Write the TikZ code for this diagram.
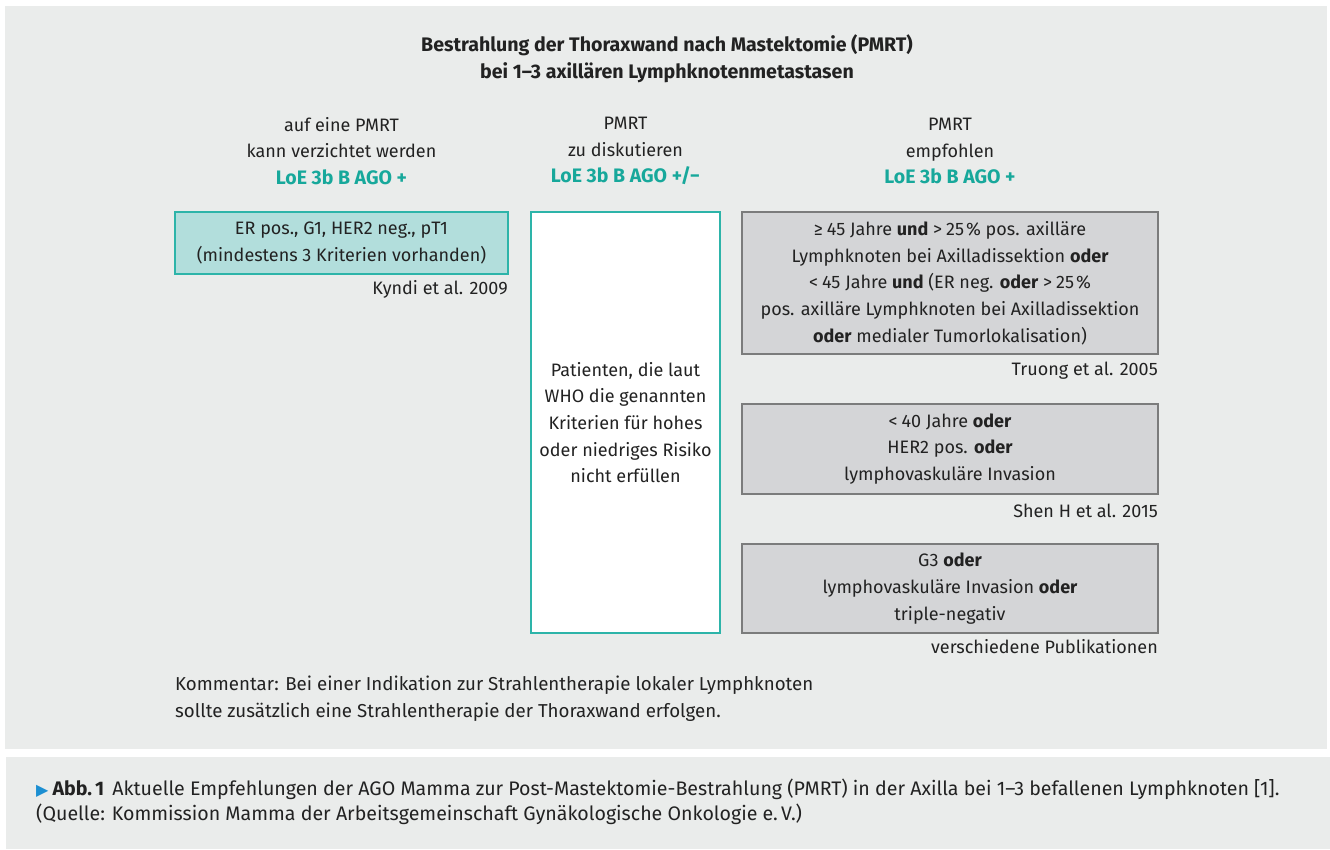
\documentclass[tikz,border=0pt]{standalone}
\usepackage{fontspec}
\setmainfont{Fira Sans}
\newfontfamily\symfont{DejaVu Sans}
\definecolor{panelbg}{HTML}{EAECEB}
\definecolor{txt}{HTML}{222222}
\definecolor{teal}{HTML}{17A89B}
\definecolor{tealfill}{HTML}{B2DEDC}
\definecolor{tealline}{HTML}{2DB4A9}
\definecolor{greyfill}{HTML}{D4D5D7}
\definecolor{greyline}{HTML}{7B7C7C}
\definecolor{capblue}{HTML}{1C8FD2}
\newcommand{\loetext}[1]{{\color{teal}\fontsize{19.5}{26.7}\selectfont\bfseries #1}}
\newcommand{\symsp}{\hspace{4pt}}
\newcommand{\pctsp}{\hspace{2pt}}
\tikzset{
  base/.style={inner sep=0pt, text=txt, font=\fontsize{18}{26.7}\selectfont, align=center},
  tealbox/.style={base, draw=tealline, fill=tealfill, line width=1.5pt},
  whitebox/.style={base, draw=tealline, fill=white, line width=1.5pt},
  greybox/.style={base, draw=greyline, fill=greyfill, line width=1.5pt},
  cite/.style={base, anchor=east},
  head/.style={base}
}
\begin{document}
\begin{tikzpicture}[x=1pt,y=-1pt]
\useasboundingbox (0,0) rectangle (1330,850);
\fill[white] (0,0) rectangle (1330,850);
\fill[panelbg] (5,6) rectangle (1327,749);
\fill[panelbg] (6,757) rectangle (1330,849);

\node[base, font=\fontsize{19.6}{27}\selectfont\bfseries] (title) at (667,58.5)
  {Bestrahlung der Thoraxwand nach Mastektomie (PMRT)\\bei 1–3 axillären Lymphknotenmetastasen};

\node[head] (h1) at (341.5,151) {auf eine PMRT\\kann verzichtet werden\\\loetext{LoE 3b B AGO +}};
\node[head] (h2) at (625.5,151) {PMRT\\zu diskutieren\\\loetext{LoE 3b B AGO +/−}};
\node[head] (h3) at (950,151) {PMRT\\empfohlen\\\loetext{LoE 3b B AGO +}};

\node[tealbox, minimum width=333pt, minimum height=62pt] (b1) at (341.5,243)
  {ER pos., G1, HER2 neg., pT1\\(mindestens 3 Kriterien vorhanden)};
\node[cite] (c1) at (508,289) {Kyndi et al. 2009};

\node[whitebox, minimum width=189pt, minimum height=421pt] (b2) at (625.5,422.5)
  {Patienten, die laut\\WHO die genannten\\Kriterien für hohes\\oder niedriges Risiko\\nicht erfüllen};

\node[greybox, minimum width=416pt, minimum height=142pt] (b3) at (950,283)
  {≥\symsp 45 Jahre \textbf{und} >\symsp 25\pctsp\% pos. axilläre\\Lymphknoten bei Axilladissektion \textbf{oder}\\<\symsp 45 Jahre \textbf{und} (ER neg. \textbf{oder} >\symsp 25\pctsp\%\\pos. axilläre Lymphknoten bei Axilladissektion\\\textbf{oder} medialer Tumorlokalisation)};
\node[cite] (c3) at (1158,371) {Truong et al. 2005};

\node[greybox, minimum width=416pt, minimum height=90pt] (b4) at (950,449)
  {<\symsp 40 Jahre \textbf{oder}\\HER2 pos. \textbf{oder}\\lymphovaskuläre Invasion};
\node[cite] (c4) at (1158,511) {Shen H et al. 2015};

\node[greybox, minimum width=416pt, minimum height=89pt] (b5) at (950,588.5)
  {G3 \textbf{oder}\\lymphovaskuläre Invasion \textbf{oder}\\triple-negativ};
\node[cite] (c5) at (1158,647) {verschiedene Publikationen};

\node[base, anchor=west, align=left, font=\fontsize{18.7}{26.7}\selectfont] (comment) at (175,698.5)
  {Kommentar: Bei einer Indikation zur Strahlentherapie lokaler Lymphknoten\\sollte zusätzlich eine Strahlentherapie der Thoraxwand erfolgen.};

\node[base, anchor=west, align=left, font=\fontsize{19.6}{25.5}\selectfont] (caption) at (36,802)
  {{\symfont\color{capblue}\fontsize{16}{16}\selectfont ▶}\hspace{4pt}\textbf{Abb.\,1}\hspace{8pt}Aktuelle Empfehlungen der AGO Mamma zur Post-Mastektomie-Bestrahlung (PMRT) in der Axilla bei 1–3 befallenen Lymphknoten [1].\\(Quelle: Kommission Mamma der Arbeitsgemeinschaft Gynäkologische Onkologie e.\,V.)};
\end{tikzpicture}
\end{document}
